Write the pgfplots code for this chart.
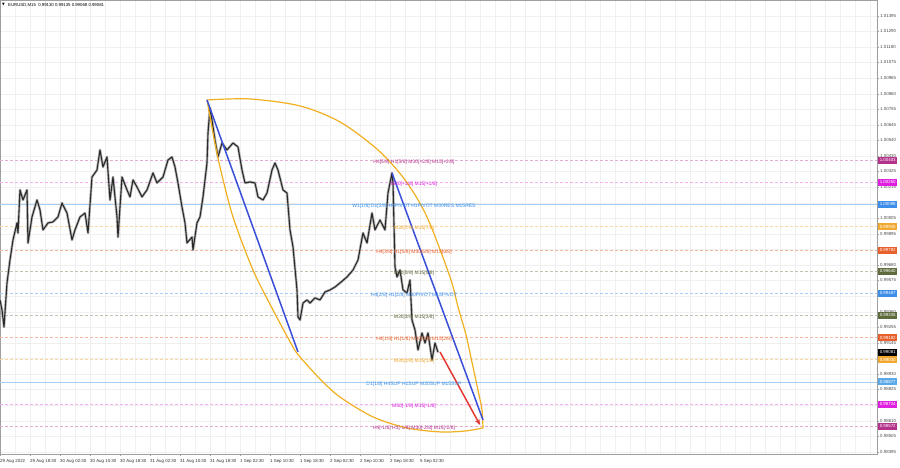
\documentclass[border=0pt]{standalone}
\usepackage{fontspec}
\setmainfont{Liberation Sans}
\newfontfamily\dejavu{DejaVu Sans}
\usepackage{pgfplots}
\usepackage{pgfplotstable}
\pgfplotsset{compat=1.18}
\usetikzlibrary{arrows.meta}

\definecolor{lvPurple}{HTML}{B4328C}
\definecolor{lvMag}{HTML}{E020E0}
\definecolor{lvBlue}{HTML}{3D8EE8}
\definecolor{lvLBlue}{HTML}{5AA8E8}
\definecolor{lvOrange}{HTML}{F0A830}
\definecolor{lvRed}{HTML}{E8602C}
\definecolor{lvOlive}{HTML}{5E6B3C}
\definecolor{trendBlue}{HTML}{3A4FD8}
\definecolor{arcGold}{HTML}{F0B020}
\definecolor{arrowRed}{HTML}{E53935}
\definecolor{priceCol}{HTML}{2A2A2A}

\newcommand{\axfont}{\fontsize{4.4}{5}\selectfont}
\newcommand{\lvfont}{\fontsize{5}{6}\selectfont}

\pgfplotstableread{
x y
0 0.99441
2 0.99372
4 0.99255
7 0.99558
10 0.99716
13 0.99854
17 0.99971
18 0.99902
20 1.00198
23 1.00129
27 1.00198
28 0.99833
32 1.00012
37 1.00129
40 1.00060
43 0.99923
48 0.99971
53 0.99978
58 1.00012
62 1.00108
67 1.00039
72 0.99854
75 0.99923
80 1.00012
85 1.00039
88 0.99902
92 1.00287
97 1.00335
100 1.00473
103 1.00356
107 1.00425
110 1.00129
113 1.00287
117 1.00012
118 0.99874
122 1.00287
127 1.00198
130 1.00150
133 1.00267
137 1.00218
142 1.00150
147 1.00198
153 1.00315
157 1.00246
163 1.00287
168 1.00404
172 1.00425
175 1.00356
178 1.00246
182 1.00081
185 0.99971
187 0.99833
192 0.99874
193 0.99785
197 0.99971
200 1.00012
203 1.00150
207 1.00384
208 1.00590
210 1.00762
212 1.00679
215 1.00542
218 1.00425
222 1.00521
227 1.00473
233 1.00521
238 1.00494
242 1.00335
245 1.00246
250 1.00253
255 1.00246
258 1.00150
263 1.00129
267 1.00177
272 1.00335
275 1.00384
278 1.00335
283 1.00198
287 1.00177
290 0.99923
293 0.99806
297 0.99510
298 0.99324
300 0.99303
303 0.99420
307 0.99441
310 0.99420
315 0.99455
320 0.99441
325 0.99496
330 0.99510
335 0.99530
340 0.99558
347 0.99599
353 0.99647
358 0.99716
363 0.99902
367 0.99833
372 1.00039
375 0.99923
380 0.99991
385 0.99923
388 1.00177
392 1.00315
393 1.00246
395 0.99668
397 0.99599
400 0.99647
403 0.99510
407 0.99489
410 0.99578
412 0.99303
415 0.99234
418 0.99097
422 0.99214
425 0.99145
428 0.99214
432 0.99028
435 0.99145
438 0.99081
}\pricetable

\newcommand{\level}[3]{\addplot[#2, line width=0.45pt, #3, forget plot] coordinates {(0,#1) (877,#1)};}
\newcommand{\lvtext}[3]{\node[text=#2, font=\lvfont, inner sep=0pt, yshift=-2pt] at (axis cs:414,#1) {#3};}
\newcommand{\lvbox}[3]{\node[fill=#2, text=white, font=\axfont, anchor=west, inner sep=0.6pt, minimum height=7pt, minimum width=19pt] at (axis cs:878,#1) {#3};}

\begin{document}
\begin{tikzpicture}
\begin{axis}[
  set layers,
  at={(0pt,14pt)}, anchor=south west,
  scale only axis, width=877pt, height=454pt,
  xmin=0, xmax=877, ymin=0.98381, ymax=1.01505,
  clip mode=individual,
  axis background/.style={fill=white},
  axis line style={draw=gray!75, line width=0.6pt},
  tick style={draw=gray!75, line width=0.4pt},
  tick align=outside, major tick length=2pt, minor tick length=0pt,
  xtick pos=bottom, ytick pos=right,
  xtick={0,30,...,420},
  xticklabels={29 Aug 2022, 29 Aug 18:30, 30 Aug 02:30, 30 Aug 10:30, 30 Aug 18:30, 31 Aug 02:30, 31 Aug 10:30, 31 Aug 18:30, 1 Sep 02:30, 1 Sep 10:30, 1 Sep 18:30, 2 Sep 02:30, 2 Sep 10:30, 2 Sep 18:30, 5 Sep 02:30},
  xticklabel style={anchor=north west, font=\axfont, text=black!80, inner sep=0pt, yshift=-3pt},
  minor xtick={0,15,...,870},
  xminorgrids=true, xmajorgrids=false,
  ymajorgrids=true,
  grid style={draw=gray!12, line width=0.4pt},
  minor grid style={draw=gray!12, line width=0.4pt},
  ytick={1.01395,1.01290,1.01180,1.01075,1.00965,1.00860,1.00755,1.00645,1.00540,1.00430,1.00325,1.00215,1.00110,1.00005,0.99895,0.99790,0.99680,0.99575,0.99465,0.99360,0.99255,0.99145,0.99040,0.98930,0.98825,0.98715,0.98610,0.98505,0.98395},
  yticklabels={1.01395,1.01290,1.01180,1.01075,1.00965,1.00860,1.00755,1.00645,1.00540,1.00430,1.00325,1.00215,,1.00005,0.99895,,0.99680,0.99575,,0.99360,0.99255,0.99145,,0.98930,0.98825,,0.98610,0.98505,0.98395},
  yticklabel style={anchor=west, font=\axfont, text=black!70, inner sep=0pt, xshift=1pt},
]
% levels
\level{1.00403}{lvPurple!40}{dash pattern=on 3pt off 2pt}
\level{1.00250}{lvMag!35}{dash pattern=on 3pt off 2pt}
\level{1.00098}{lvLBlue!55}{solid}
\level{0.99945}{lvOrange!45}{dash pattern=on 3pt off 2pt}
\level{0.99782}{lvRed!45}{dash pattern=on 3pt off 2pt}
\level{0.99640}{lvOlive!40}{dash pattern=on 3pt off 2pt}
\level{0.99487}{lvBlue!45}{dash pattern=on 3pt off 2pt}
\level{0.99335}{lvOlive!40}{dash pattern=on 3pt off 2pt}
\level{0.99182}{lvRed!45}{dash pattern=on 3pt off 2pt}
\level{0.99030}{lvOrange!45}{dash pattern=on 3pt off 2pt}
\level{0.98877}{lvLBlue!55}{solid}
\level{0.98724}{lvMag!35}{dash pattern=on 3pt off 2pt}
\level{0.98572}{lvPurple!40}{dash pattern=on 3pt off 2pt}

% price (wick shade + body line)
\addplot[gray!55, line width=2.6pt, line join=round, forget plot] table[x=x,y=y] {\pricetable};
\addplot[priceCol, line width=1.1pt, line join=round] table[x=x,y=y] {\pricetable};

% arcs
\addplot[arcGold, line width=1.2pt, smooth, tension=0.5] coordinates {
(207,1.00817) (250,1.00824) (300,1.00776) (340,1.00666) (378,1.00473) (405,1.00267) (427,1.00012) (450,0.99599) (458,0.99393) (466,0.99200) (473,0.98980) (479,0.98787) (482,0.98684) (483,0.98560)};
\addplot[arcGold, line width=1.2pt, smooth, tension=0.5] coordinates {
(207,1.00817) (213,1.00590) (220,1.00356) (233,1.00012) (253,0.99647) (273,0.99372) (293,0.99117) (300,0.99049) (320,0.98897) (340,0.98773) (373,0.98636) (407,0.98560) (440,0.98533) (465,0.98539) (483,0.98560)};

% trend lines
\addplot[trendBlue, line width=1.5pt] coordinates {(207,1.00817) (298,0.99083)};
\addplot[trendBlue, line width=1.5pt] coordinates {(392,1.00315) (483,0.98615)};
\addplot[arrowRed, line width=1.5pt, -{Stealth[length=6pt,width=5pt]}] coordinates {(440,0.99083) (480,0.98581)};

% level labels
\lvtext{1.00403}{lvPurple}{H4[5/8] H1[5/8] M30[+2/8] M15[+2/8]}
\lvtext{1.00250}{lvMag}{M30[+1/8] M15[+1/8]}
\lvtext{1.00098}{lvBlue}{W1[1/8] D1[2/8] H4PIVOT H1PIVOT M30RES M15RES}
\lvtext{0.99945}{lvOrange}{M30[7/8] M15[7/8]}
\lvtext{0.99782}{lvRed}{H4[3/8] H1[3/8] M30[6/8] M15[6/8]}
\lvtext{0.99640}{lvOlive}{M30[5/8] M15[5/8]}
\lvtext{0.99487}{lvBlue}{H4[2/8] H1[2/8] M30PIVOT M15PIVOT}
\lvtext{0.99335}{lvOlive}{M30[3/8] M15[3/8]}
\lvtext{0.99182}{lvRed}{H4[1/8] H1[1/8] M30[2/8] M15[2/8]}
\lvtext{0.99030}{lvOrange}{M30[1/8] M15[1/8]}
\lvtext{0.98877}{lvBlue}{D1[1/8] H4SUP H1SUP M30SUP M15SUP}
\lvtext{0.98724}{lvMag}{M30[-1/8] M15[-1/8]}
\lvtext{0.98572}{lvPurple}{H4[-1/8] H1[-1/8] M30[-2/8] M15[-2/8]}

\begin{pgfonlayer}{axis foreground}
\lvbox{1.00403}{lvPurple}{1.00403}
\lvbox{1.00250}{lvMag}{1.00250}
\lvbox{1.00098}{lvBlue}{1.00098}
\lvbox{0.99945}{lvOrange}{0.99945}
\lvbox{0.99782}{lvRed}{0.99782}
\lvbox{0.99640}{lvOlive}{0.99640}
\lvbox{0.99487}{lvBlue}{0.99487}
\lvbox{0.99335}{lvOlive}{0.99335}
\lvbox{0.99182}{lvRed}{0.99182}
\lvbox{0.99081}{black}{0.99081}
\lvbox{0.99030}{lvOrange}{0.99030}
\lvbox{0.98877}{lvLBlue}{0.98877}
\lvbox{0.98724}{lvMag}{0.98724}
\lvbox{0.98572}{lvPurple}{0.98572}
\end{pgfonlayer}
\end{axis}
\node[anchor=west, inner sep=0pt, font=\fontsize{3.5}{4}\dejavu] at (2pt,463pt) {▼};
\node[anchor=west, inner sep=0pt, font=\fontsize{4.3}{5}\selectfont] at (8pt,463pt) {EURUSD,M15\ \ 0.99130 0.99135 0.99068 0.99081};
\pgfresetboundingbox
\useasboundingbox (0,0) rectangle (900pt,468pt);
\end{tikzpicture}
\end{document}
